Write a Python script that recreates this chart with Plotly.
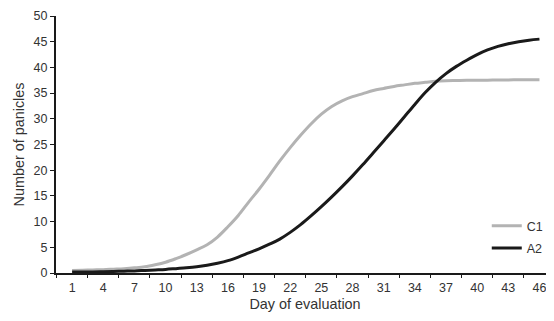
import plotly.graph_objects as go

days = list(range(1, 47))
c1 = [0.5, 0.55, 0.6, 0.65, 0.75, 0.85, 1.0, 1.2, 1.6, 2.1,
      2.8, 3.6, 4.5, 5.5, 7.0, 9.0, 11.2, 13.8, 16.3, 19.0,
      21.8, 24.4, 26.8, 29.0, 30.9, 32.4, 33.5, 34.3, 34.9, 35.5,
      35.9, 36.3, 36.6, 36.9, 37.1, 37.3, 37.4, 37.45, 37.5, 37.5,
      37.5, 37.55, 37.55, 37.6, 37.6, 37.6]
a2 = [0.2, 0.2, 0.2, 0.25, 0.3, 0.35, 0.4, 0.5, 0.6, 0.7,
      0.85, 1.0, 1.2, 1.5, 1.9, 2.4, 3.1, 3.9, 4.7, 5.6,
      6.6, 7.9, 9.4, 11.1, 12.9, 14.8, 16.8, 18.9, 21.1, 23.4,
      25.7, 28.0, 30.4, 32.8, 35.1, 37.1, 38.8, 40.2, 41.4, 42.5,
      43.4, 44.1, 44.6, 45.0, 45.3, 45.5]
xtick_labels = list(range(1, 47, 3))
ytick_vals = list(range(0, 51, 5))

fig = go.Figure()
fig.add_trace(go.Scatter(x=days, y=c1, mode="lines", name="C1", legendgroup="c1",
                         line=dict(color="#b3b3b3", width=3, shape="spline")))
fig.add_trace(go.Scatter(x=days, y=a2, mode="lines", name="A2", legendgroup="a2",
                         line=dict(color="#1a1a1a", width=3, shape="spline")))

ff = "Liberation Sans, Arial, sans-serif"
txt = "#333333"
# the page body has an 8px default margin, so the figure is sized to fit the window
fig.update_layout(
    width=546, height=313,
    margin=dict(l=48, r=0, t=8, b=48),
    paper_bgcolor="white", plot_bgcolor="white",
    font=dict(family=ff, size=12.5, color=txt),
    showlegend=True,
    legend=dict(x=0.865, y=0.14, xanchor="left", yanchor="middle",
                bgcolor="rgba(0,0,0,0)", font=dict(family=ff, size=12.5, color=txt),
                traceorder="grouped", tracegroupgap=3, itemwidth=30),
    xaxis=dict(
        range=[-0.55, 47.4], tickmode="array", tickvals=xtick_labels,
        ticktext=[str(v) for v in xtick_labels], ticks="", showgrid=False,
        zeroline=False, showline=True, linecolor="#1a1a1a", linewidth=2,
        automargin=True, ticklabelstandoff=2,
        title=dict(text="Day of evaluation", font=dict(family=ff, size=14.4, color=txt), standoff=5),
        tickfont=dict(family=ff, size=12.5, color=txt),
        minor=dict(tickmode="array", tickvals=[v - 1.5 for v in xtick_labels] + [47.5],
                   ticks="outside", ticklen=3, tickcolor="#1a1a1a", tickwidth=1, showgrid=False),
    ),
    yaxis=dict(
        range=[0, 50], tickmode="array", tickvals=ytick_vals, ticks="outside",
        ticklen=4, tickcolor="#1a1a1a", showgrid=False, zeroline=False,
        showline=True, linecolor="#1a1a1a", linewidth=2, automargin=True,
        title=dict(text="Number of panicles", font=dict(family=ff, size=14.4, color=txt), standoff=6),
        tickfont=dict(family=ff, size=12.5, color=txt),
    ),
)

fig.write_html("out.html")
